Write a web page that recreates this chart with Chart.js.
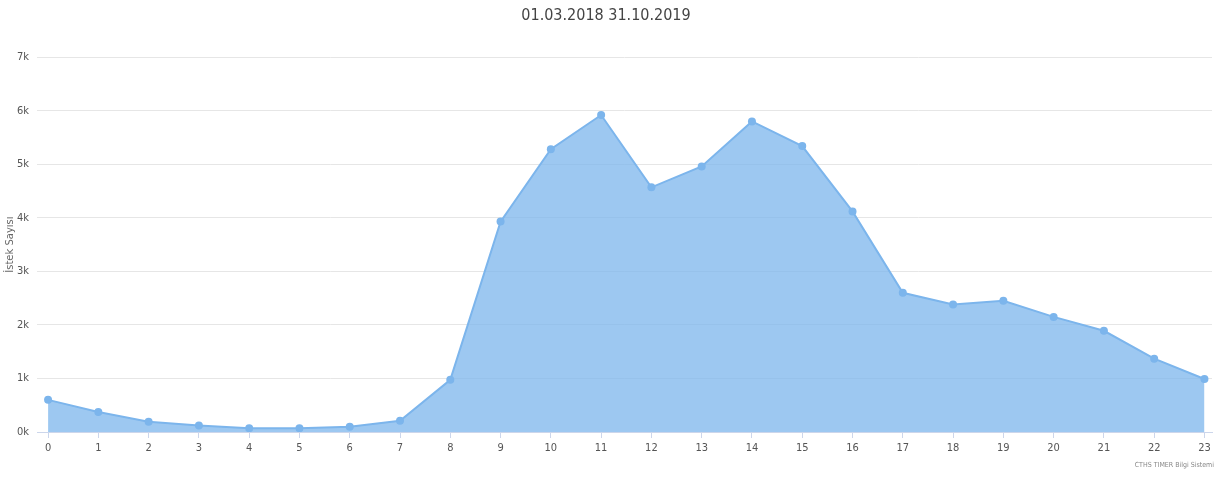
<!DOCTYPE html>
<html lang="tr">
<head>
    <meta charset="UTF-8">
    <title>İstek Sayısı</title>
    <script src="https://cdn.jsdelivr.net/npm/chart.js"></script>
    <style>
        body { margin: 0; background: #fff; }
        .wrap { position: relative; width: 1218px; height: 478px; }
        .credit {
            position: absolute; right: 4px; bottom: 9px;
            font: 7px "DejaVu Sans Condensed", "DejaVu Sans", sans-serif;
            font-stretch: condensed;
            color: #888;
        }
    </style>
</head>
<body>
    <div class="wrap">
        <canvas id="chart"></canvas>
        <div class="credit">CTHS TIMER Bilgi Sistemi</div>
    </div>
    <script>
        const hours = [0, 1, 2, 3, 4, 5, 6, 7, 8, 9, 10, 11, 12, 13, 14, 15, 16, 17, 18, 19, 20, 21, 22, 23];
        const requests = [600, 375, 190, 120, 70, 70, 100, 210, 975, 3930, 5280, 5920, 4570, 4960,
                          5800, 5340, 4120, 2600, 2380, 2450, 2150, 1890, 1370, 990];
        const yTickLabels = ['0k', '1k', '2k', '3k', '4k', '5k', '6k', '7k'];

        const font = '"DejaVu Sans Condensed", "DejaVu Sans", sans-serif';

        new Chart(document.getElementById('chart'), {
            type: 'line',
            data: {
                datasets: [{
                    data: hours.map((h, i) => ({ x: h, y: requests[i] })),
                    borderColor: '#7cb5ec',
                    backgroundColor: 'rgba(124, 181, 236, 0.75)',
                    borderWidth: 2,
                    fill: 'origin',
                    tension: 0,
                    pointRadius: 4,
                    pointBackgroundColor: '#7cb5ec',
                    pointBorderWidth: 0
                }]
            },
            options: {
                responsive: true,
                maintainAspectRatio: false,
                animation: false,
                layout: { padding: { left: 0, right: 6, top: 0, bottom: 0 } },
                plugins: {
                    legend: { display: false },
                    tooltip: { enabled: false },
                    title: {
                        display: true,
                        text: '01.03.2018 31.10.2019',
                        color: '#444',
                        font: { family: font, size: 16, weight: 'normal' },
                        padding: { top: 6, bottom: 32 }
                    }
                },
                scales: {
                    x: {
                        type: 'linear',
                        min: -0.22,
                        max: 23.15,
                        afterFit: s => { s.height = 46; },
                        afterBuildTicks: s => { s.ticks = hours.map(h => ({ value: h })); },
                        ticks: {
                            color: '#555',
                            font: { family: font, size: 11 },
                            padding: 4,
                            maxRotation: 0,
                            callback: v => String(v)
                        },
                        grid: {
                            drawOnChartArea: false,
                            drawTicks: true,
                            tickLength: 6,
                            color: '#ccd6eb'
                        },
                        border: { color: '#ccd6eb' }
                    },
                    y: {
                        min: 0,
                        max: 7000,
                        afterFit: s => { s.width = 37; },
                        ticks: {
                            stepSize: 1000,
                            color: '#555',
                            padding: 8,
                            font: { family: font, size: 11 },
                            callback: (v, i) => yTickLabels[i]
                        },
                        title: {
                            display: true,
                            text: 'İstek Sayısı',
                            color: '#666',
                            font: { family: 'DejaVu Sans', size: 10 },
                            padding: { top: 4, bottom: 0 }
                        },
                        grid: { color: '#e6e6e6', drawTicks: false },
                        border: { display: false }
                    }
                }
            }
        });
    </script>
</body>
</html>
